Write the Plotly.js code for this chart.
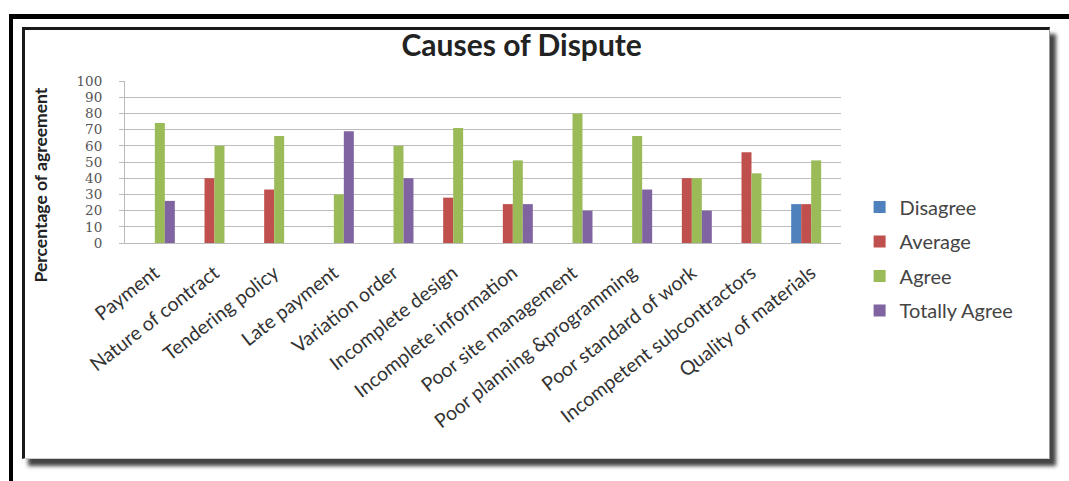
<!DOCTYPE html>
<html>
<head>
<meta charset="utf-8">
<script src="https://cdn.plot.ly/plotly-3.0.1.min.js"></script>
<style>
  html, body { margin:0; padding:0; background:#fff; width:1069px; height:481px; overflow:hidden; }
  #outer { position:absolute; left:9px; top:14px; width:1080px; height:490px; border-top:5px solid #000; border-left:4px solid #000; }
  #inner { position:absolute; left:22px; top:27px; width:1024px; height:428px; border-top:3px solid #1a1a1a; border-left:3px solid #1a1a1a; border-right:1px solid #999; border-bottom:1px solid #ccc; box-shadow:6px 7px 4px #444; background:#fff; }
  #chart { position:absolute; left:0; top:0; width:1069px; height:481px; }
</style>
</head>
<body>
<div id="outer"></div>
<div id="inner"></div>
<div id="chart"></div>
<script>
const categories = ["Payment", "Nature of contract", "Tendering policy", "Late payment", "Variation order", "Incomplete design", "Incomplete information", "Poor site management", "Poor planning &programming", "Poor standard of work", "Incompetent subcontractors", "Quality of materials"];
const seriesNames = ["Disagree", "Average", "Agree", "Totally Agree"];
const disagree     = [null, null, null, null, null, null, null, null, null, null, null, 24];
const average      = [null, 40, 33, null, null, 28, 24, null, null, 40, 56, 24];
const agree        = [74, 60, 66, 30, 60, 71, 51, 80, 66, 40, 43, 51];
const totallyAgree = [26, null, null, 69, 40, null, 24, 20, 33, 20, null, null];
const yTicks = [0, 10, 20, 30, 40, 50, 60, 70, 80, 90, 100];

const colors = ["#4F81BD", "#C0504D", "#9BBB59", "#8064A2"];
const values = [disagree, average, agree, totallyAgree];

const traces = values.map((v, i) => ({
  type: "bar",
  name: seriesNames[i],
  x: categories,
  y: v,
  marker: { color: colors[i], line: { width: 0 } },
  legendgroup: "g" + i,
  hoverinfo: "x+y+name"
}));

const layout = {
  width: 1069,
  height: 481,
  paper_bgcolor: "rgba(0,0,0,0)",
  plot_bgcolor: "rgba(0,0,0,0)",
  margin: { l: 125, r: 228, t: 81, b: 238 },
  barmode: "group",
  bargap: 0.33,
  bargroupgap: 0,
  title: {
    text: "<b>Causes of Dispute</b>",
    font: { family: "Lato, 'Open Sans', sans-serif", size: 30, color: "#222" },
    xref: "container", x: 0.488, xanchor: "center",
    yref: "container", y: 0.906, yanchor: "middle"
  },
  xaxis: {
    type: "category",
    tickangle: -38,
    tickfont: { family: "Lato, 'Open Sans', sans-serif", size: 19.5, color: "#333" },
    ticklabelstandoff: 10,
    showline: true, linecolor: "#bbb", linewidth: 1,
    ticks: "", showgrid: false,
    automargin: false
  },
  yaxis: {
    range: [0, 100],
    tickvals: yTicks,
    ticktext: yTicks.map(String),
    tickfont: { family: "'DejaVu Serif', 'Liberation Serif', serif", size: 13.5, color: "#555" },
    ticks: "outside", ticklen: 5, tickcolor: "#bbb",
    ticklabelstandoff: 14,
    showline: true, linecolor: "#bbb", linewidth: 1,
    showgrid: true, gridcolor: "#bdbdbd", gridwidth: 1,
    zeroline: false,
    automargin: false
  },
  legend: {
    x: 1.026, xanchor: "left",
    y: 0.343, yanchor: "top",
    font: { family: "Lato, 'Open Sans', sans-serif", size: 20, color: "#444" },
    traceorder: "grouped",
    tracegroupgap: 5.5,
    itemwidth: 30,
    bgcolor: "rgba(0,0,0,0)"
  },
  annotations: [{
    text: "<b>Percentage of agreement</b>",
    textangle: -90,
    xref: "paper", yref: "paper",
    x: -0.1187, y: 0.355,
    xanchor: "center", yanchor: "middle",
    showarrow: false,
    font: { family: "Lato, 'Open Sans', sans-serif", size: 17.5, color: "#222" }
  }]
};

Plotly.newPlot("chart", traces, layout, { staticPlot: true, displayModeBar: false });
</script>
</body>
</html>
